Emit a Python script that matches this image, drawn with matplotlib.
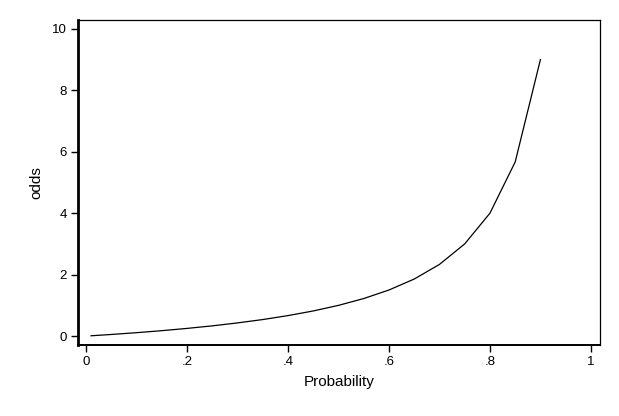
import matplotlib.pyplot as plt

# probability vs odds
probability = [0.01, 0.05, 0.10, 0.15, 0.20, 0.25, 0.30, 0.35, 0.40, 0.45,
               0.50, 0.55, 0.60, 0.65, 0.70, 0.75, 0.80, 0.85, 0.90]
odds = [0.0101, 0.0526, 0.111, 0.176, 0.25, 0.333, 0.429, 0.538, 0.667, 0.818,
        1.0, 1.222, 1.5, 1.857, 2.333, 3.0, 4.0, 5.667, 9.0]
x_ticks = [0, 0.2, 0.4, 0.6, 0.8, 1]
x_labels = ['0', '.2', '.4', '.6', '.8', '1']
y_ticks = [0, 2, 4, 6, 8, 10]

plt.rcParams['font.family'] = ['Liberation Sans', 'DejaVu Sans']

W, H = 619, 416
fig = plt.figure(figsize=(W / 100, H / 100), dpi=100, facecolor='white')
ax = fig.add_axes([78 / W, 1 - 345 / H, (600 - 78) / W, (345 - 20) / H])

ax.plot(probability, odds, color='black', linewidth=0.9)

ax.set_xlim(-0.0158, 1.018)
ax.set_ylim(-0.29, 10.29)
ax.set_xticks(x_ticks)
ax.set_xticklabels(x_labels)
ax.set_yticks(y_ticks)
ax.tick_params(direction='out', length=5, width=1, labelsize=9.5, pad=3,
               colors='black')

for side in ['top', 'right']:
    ax.spines[side].set_linewidth(0.9)
ax.spines['left'].set_linewidth(2)
ax.spines['bottom'].set_linewidth(1.4)

ax.set_xlabel('Probability', fontsize=11, labelpad=5)
ax.set_ylabel('odds', fontsize=11, labelpad=6)

fig.savefig('out.png', dpi=100, facecolor='white')
